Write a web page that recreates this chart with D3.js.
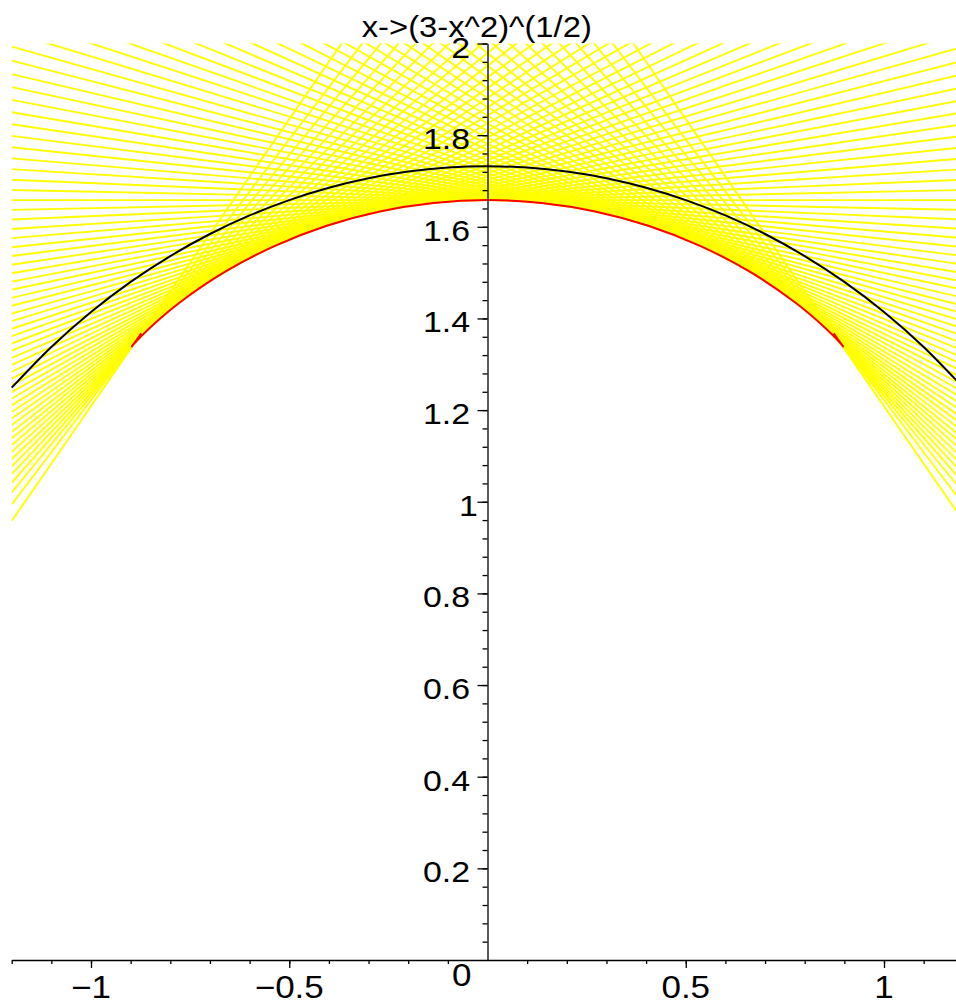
<!DOCTYPE html>
<html lang="en">
<head>
<meta charset="utf-8">
<style>
    body { margin: 0; background: #fff; }
    svg { display: block; }
    text { font-family: "Liberation Sans", Arial, Helvetica, sans-serif; fill: #000; }
</style>
</head>
<body>
<script src="https://cdn.jsdelivr.net/npm/d3@7"></script>
<script>
    // black curve x -> (3-x^2)^(1/2), read every 0.1
    const curveX = [-1.2, -1.1, -1.0, -0.9, -0.8, -0.7, -0.6, -0.5, -0.4, -0.3, -0.2, -0.1, 0,
                    0.1, 0.2, 0.3, 0.4, 0.5, 0.6, 0.7, 0.8, 0.9, 1.0, 1.1, 1.2];
    const curveY = [1.2490, 1.3379, 1.4142, 1.4799, 1.5362, 1.5843, 1.6248, 1.6583, 1.6852, 1.7059, 1.7205, 1.7292, 1.7321,
                    1.7292, 1.7205, 1.7059, 1.6852, 1.6583, 1.6248, 1.5843, 1.5362, 1.4799, 1.4142, 1.3379, 1.2490];

    // red curve (envelope of the yellow lines, small hook at each end)
    const envX = [-0.8731, -0.8915, -0.8970, -0.8957, -0.8899, -0.8700, -0.8431, -0.7770, -0.6616, -0.5362, -0.4055, -0.2717, -0.1362, 0,
                  0.1362, 0.2717, 0.4055, 0.5362, 0.6616, 0.7770, 0.8431, 0.8700, 0.8899, 0.8957, 0.8970, 0.8915, 0.8731];
    const envY = [1.3675, 1.3452, 1.3390, 1.3404, 1.3461, 1.3642, 1.3865, 1.4344, 1.5020, 1.5585, 1.6024, 1.6336, 1.6521, 1.6583,
                  1.6521, 1.6336, 1.6024, 1.5585, 1.5020, 1.4344, 1.3865, 1.3642, 1.3461, 1.3404, 1.3390, 1.3452, 1.3675];

    // yellow lines: height of each rising line at the left edge (x=-1.2) and right edge (x=1.2);
    // the falling lines are the same set seen in the mirror
    const rayLeftY = [1.65831, 1.63685, 1.61585, 1.59529, 1.57519, 1.55549, 1.53617, 1.51724, 1.49866, 1.48043,
                      1.46253, 1.44495, 1.42766, 1.41068, 1.39397, 1.37752, 1.36132, 1.34535, 1.32962, 1.31410,
                      1.29878, 1.28365, 1.26869, 1.25390, 1.23924, 1.22471, 1.21026, 1.19590, 1.18158, 1.16725,
                      1.15289, 1.13841, 1.12375, 1.10879, 1.09337, 1.07728, 1.06017, 1.04146, 1.02017, 0.99421, 0.95798];
    const rayRightY = [1.65831, 1.68027, 1.70275, 1.72578, 1.74936, 1.77355, 1.79837, 1.82386, 1.85004, 1.87698,
                       1.90471, 1.93325, 1.96269, 1.99306, 2.02443, 2.05684, 2.09042, 2.12518, 2.16129, 2.19879,
                       2.23778, 2.27845, 2.32087, 2.36527, 2.41176, 2.46059, 2.51202, 2.56628, 2.62374, 2.68479,
                       2.74992, 2.81968, 2.89488, 2.97642, 3.06552, 3.16391, 3.27395, 3.39924, 3.54576, 3.72483, 3.96432];

    const xTickVals = [-1, -0.5, 0.5, 1];
    const xTickText = ["\u22121", "\u22120.5", "0.5", "1"];
    const yTickVals = [0.2, 0.4, 0.6, 0.8, 1, 1.2, 1.4, 1.6, 1.8, 2];
    const yTickText = ["0.2", "0.4", "0.6", "0.8", "1", "1.2", "1.4", "1.6", "1.8", "2"];
    const title = "x->(3-x^2)^(1/2)";

    let w = 956;
    let h = 1002;
    let stretch = 1.13;   // text in the original is drawn a bit wide

    let xScale = d3.scaleLinear().domain([-1.2, 1.2]).range([11.7, 963.3]);
    let yScale = d3.scaleLinear().domain([0, 2]).range([960, 43.5]);

    let svg = d3.select("body")
                .append("svg")
                .attr("width", w)
                .attr("height", h);

    svg.append("clipPath")
        .attr("id", "view")
        .append("rect")
        .attr("x", xScale(-1.2))
        .attr("y", yScale(2))
        .attr("width", xScale(1.2) - xScale(-1.2))
        .attr("height", yScale(0) - yScale(2));

    // rising and falling lines
    let rays = [];
    rayLeftY.forEach((d, i) => {
        rays.push([d, rayRightY[i]]);
        if (i > 0) rays.push([rayRightY[i], d]);
    });

    svg.append("g")
        .attr("clip-path", "url(#view)")
        .selectAll("line")
        .data(rays)
        .enter()
        .append("line")
        .attr("x1", xScale(-1.2))
        .attr("y1", (d) => yScale(d[0]))
        .attr("x2", xScale(1.2))
        .attr("y2", (d) => yScale(d[1]))
        .attr("stroke", "#ffff00")
        .attr("stroke-width", 1.9);

    let line = d3.line()
                 .x((d) => xScale(d[0]))
                 .y((d) => yScale(d[1]))
                 .curve(d3.curveCatmullRom.alpha(0.5));

    svg.append("path")
        .datum(d3.zip(curveX, curveY))
        .attr("d", line)
        .attr("fill", "none")
        .attr("stroke", "#000")
        .attr("stroke-width", 2);

    svg.append("path")
        .datum(d3.zip(envX, envY))
        .attr("d", line)
        .attr("fill", "none")
        .attr("stroke", "#ff0000")
        .attr("stroke-width", 2);

    // x axis: minor ticks every 0.1, longer ones at the labels
    let xMinor = d3.range(-12, 13).filter((k) => k !== 0).map((k) => k / 10);
    let xAxisG = svg.append("g").attr("transform", "translate(0," + yScale(0) + ")");
    xAxisG.call(d3.axisBottom(xScale).tickValues(xMinor).tickSize(4).tickSizeOuter(0).tickFormat(""));
    xAxisG.append("g")
        .call(d3.axisBottom(xScale).tickValues(xTickVals).tickSize(8).tickSizeOuter(0).tickFormat(""))
        .select(".domain").remove();

    // y axis: minor ticks every 0.04
    let yMinor = d3.range(1, 51).map((k) => k * 0.04);
    let yAxisG = svg.append("g").attr("transform", "translate(" + xScale(0) + ",0)");
    yAxisG.call(d3.axisLeft(yScale).tickValues(yMinor).tickSize(5).tickSizeOuter(0).tickFormat(""));
    yAxisG.append("g")
        .call(d3.axisLeft(yScale).tickValues(yTickVals).tickSize(10).tickSizeOuter(0).tickFormat(""))
        .select(".domain").remove();

    svg.selectAll(".domain, .tick line").attr("stroke", "#000").attr("stroke-width", 1.3);

    svg.append("g")
        .selectAll("text")
        .data(xTickVals)
        .enter()
        .append("text")
        .attr("transform", (d) => "translate(" + xScale(d) + ",998) scale(" + stretch + ",1)")
        .attr("text-anchor", "middle")
        .attr("font-size", 31)
        .text((d, i) => xTickText[i]);

    svg.append("text")
        .attr("transform", "translate(461.7,986.3) scale(" + stretch + ",1)")
        .attr("text-anchor", "middle")
        .attr("font-size", 31)
        .text("0");

    svg.append("g")
        .selectAll("text")
        .data(yTickVals)
        .enter()
        .append("text")
        .attr("transform", (d) => "translate(" + (xScale(0) - 17.5) + "," + (yScale(d) + 14) + ") scale(" + stretch + ",1)")
        .attr("text-anchor", "end")
        .attr("dx", (d) => d === 1 ? 7 : 0)
        .attr("font-size", 30)
        .text((d, i) => yTickText[i]);

    svg.append("text")
        .attr("transform", "translate(361.7,37) scale(" + stretch + ",1)")
        .attr("font-size", 29)
        .text(title);
</script>
</body>
</html>
